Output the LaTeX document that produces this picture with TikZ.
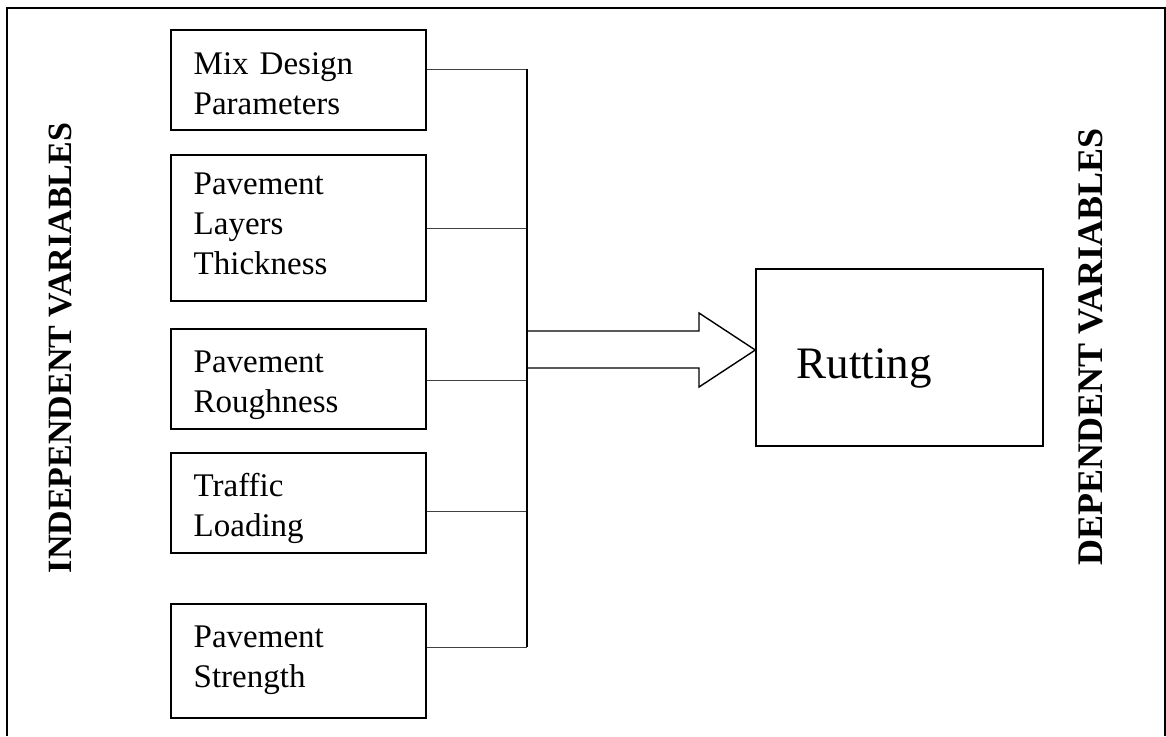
\documentclass[tikz,border=0pt]{standalone}
\usepackage{fontspec}
\setmainfont{Liberation Serif}

\begin{document}
\begin{tikzpicture}[x=0.5pt,y=-0.5pt,
  varbox/.style={draw,line width=0.7pt,minimum width=127.5pt,inner sep=0pt},
  vartext/.style={anchor=base west,inner sep=0pt,align=left,text width=110pt,font=\fontsize{16.5}{20}\selectfont},
  rutbox/.style={draw,line width=0.7pt,minimum width=143.5pt,minimum height=88.5pt,inner sep=0pt},
  link/.style={draw=black!75,line width=0.5pt},
  sidelabel/.style={rotate=90,inner sep=0pt,font=\bfseries\fontsize{17}{20}\selectfont}]
  \useasboundingbox (0,0) rectangle (1166,736);
  % frame
  \draw[line width=0.6pt] (7,736) -- (7,8) -- (1165,8) -- (1165,736);
  \node[sidelabel] (indep) at (61,348) {INDEPENDENT VARIABLES};
  \node[sidelabel,font=\bfseries\fontsize{18}{20}\selectfont] (dep) at (1091,347) {DEPENDENT VARIABLES};
  % input boxes
  \node[varbox,minimum height=50pt] (mix) at (298.5,80) {};
  \node[varbox,minimum height=73pt] (layer) at (298.5,228) {};
  \node[varbox,minimum height=50pt] (rough) at (298.5,379) {};
  \node[varbox,minimum height=50pt] (traffic) at (298.5,503) {};
  \node[varbox,minimum height=57pt] (strength) at (298.5,661) {};
  \node[vartext] (mixtxt) at ([shift={(23,45)}]mix.north west) {Mix Design\\Parameters};
  \node[vartext] (layertxt) at ([shift={(23,40)}]layer.north west) {Pavement\\Layers\\Thickness};
  \node[vartext] (roughtxt) at ([shift={(23,44)}]rough.north west) {Pavement\\Roughness};
  \node[vartext] (traffictxt) at ([shift={(23,44)}]traffic.north west) {Traffic\\Loading};
  \node[vartext] (strengthtxt) at ([shift={(23,44)}]strength.north west) {Pavement\\Strength};
  % output box
  \node[rutbox] (rut) at (899.5,357.5) {};
  \node[anchor=base west,inner sep=0pt,font=\fontsize{22.5}{26}\selectfont] (ruttxt) at ([shift={(41,20.5)}]rut.west) {Rutting};
  % connectors
  \coordinate (jmix) at (527,69);
  \coordinate (jlayer) at (527,228);
  \coordinate (jrough) at (527,380);
  \coordinate (jtraffic) at (527,511);
  \coordinate (jstrength) at (527,647);
  \draw[link] (mix.east |- jmix) -- (jmix);
  \draw[link] (layer.east |- jlayer) -- (jlayer);
  \draw[link] (rough.east |- jrough) -- (jrough);
  \draw[link] (traffic.east |- jtraffic) -- (jtraffic);
  \draw[link] (strength.east |- jstrength) -- (jstrength);
  \draw[line width=0.6pt] (jmix) -- (jstrength);
  % block arrow
  \coordinate (shafttop) at (527,331);
  \coordinate (shaftbot) at (527,368);
  \coordinate (tip) at (rut.west |- 0,350);
  \draw[line width=0.7pt] (shafttop) -- ++(172,0) -- ++(0,-18) -- (tip) -- (699,387) -- ++(0,-19) -- (shaftbot);
\end{tikzpicture}
\end{document}
